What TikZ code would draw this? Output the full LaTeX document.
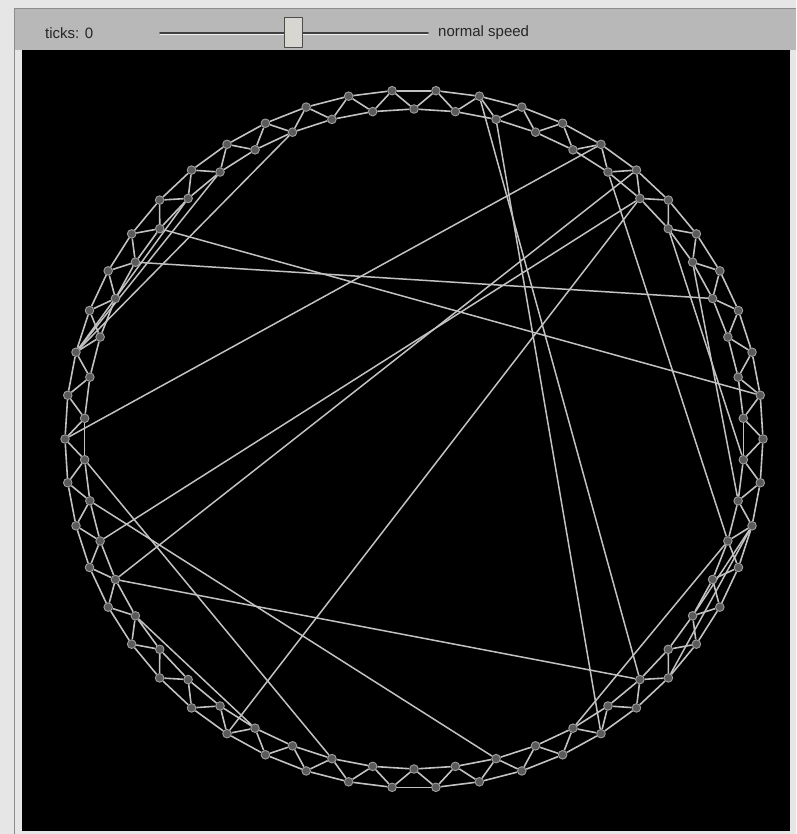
\documentclass[tikz,border=0pt]{standalone}
\usepackage{fontspec}
\setmainfont{Liberation Sans}
\usetikzlibrary{backgrounds}
\definecolor{framebg}{HTML}{E6E6E6}
\definecolor{frameline}{HTML}{8C8C8C}
\definecolor{barbg}{HTML}{B8B8B8}
\definecolor{knobfill}{HTML}{D8D6D0}
\definecolor{linkgray}{HTML}{C2C2C2}
\definecolor{dotfill}{HTML}{5A5A5A}
\definecolor{dotedge}{HTML}{A0A0A0}
\tikzset{
  world view/.style={
    x=1pt,
    y=-1pt,
    line cap=round,
    line join=round
  },
  turtle/.style={
    circle,
    fill=dotfill,
    draw=dotedge,
    line width=0.9pt,
    minimum size=8.6pt,
    inner sep=0pt
  },
  lattice/.style={
    draw=linkgray,
    line width=1.6pt
  },
  shortcut/.style={
    draw=linkgray,
    line width=1.5pt
  },
  barlabel/.style={
    font=\fontsize{15}{18}\selectfont,
    text=black!85,
    inner sep=0pt
  }
}

\begin{document}
\begin{tikzpicture}[world view]
\useasboundingbox (0,0) rectangle (796,834);
\begin{scope}[on background layer]
\fill[framebg] (0,0) rectangle (796,834);
\fill[barbg] (14,9) rectangle (796,50);
\draw[frameline, line width=1pt] (14,9) -- (796,9);
\draw[frameline, line width=1pt] (14,9) -- (14,834);
\fill[black] (22,50) rectangle (790,831);
\end{scope}

\node[barlabel, anchor=west] (ticks) at (45,33) {ticks: 0};
\coordinate (trackL) at (160,33);
\coordinate (trackR) at (428,33);
\draw[black!75, line width=1.6pt] (trackL) -- (trackR);
\draw[white!80!barbg, line width=0.8pt] ([yshift=-1.6pt]trackL) -- ([yshift=-1.6pt]trackR);
\node[draw=black!70, fill=knobfill, line width=0.9pt, minimum width=18pt, minimum height=30pt, inner sep=0pt] (knob) at (293,32) {};
\node[barlabel, anchor=west] (speed) at (438,33) {normal speed};

\foreach \k in {0,...,99}{
  \pgfmathsetmacro{\ang}{90+3.6*\k}
  \pgfmathsetmacro{\rad}{330+19*mod(\k,2)}
  \node[turtle] (n\k) at ({414+\rad*cos(\ang)},{439-\rad*sin(\ang)}) {};
}

\begin{scope}[on background layer]
\foreach \k in {0,...,99}{
  \pgfmathtruncatemacro{\ka}{mod(\k+1,100)}
  \pgfmathtruncatemacro{\kb}{mod(\k+2,100)}
  \draw[lattice] (n\k) -- (n\ka);
  \draw[lattice] (n\k) -- (n\kb);
}
\foreach \a/\b in {14/77, 16/82, 25/91, 30/88, 32/89, 41/88, 96/59, 97/62,
  90/70, 32/62, 26/46, 28/54, 34/42, 6/21, 21/12, 21/10, 71/66, 71/63,
  70/58, 86/74, 84/72}
  \draw[shortcut] (n\a) -- (n\b);
\end{scope}
\end{tikzpicture}
\end{document}
